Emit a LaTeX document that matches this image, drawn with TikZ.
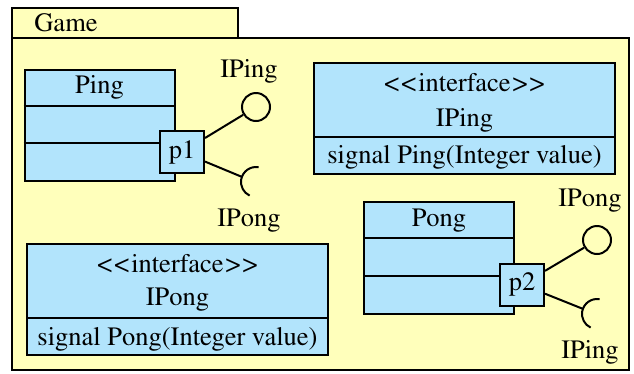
\documentclass[tikz,border=0pt]{standalone}
\usepackage[T1]{fontenc}
\usepackage{mathptmx}
\usetikzlibrary{shapes,arrows,calc,positioning}

\definecolor{pkgyellow}{RGB}{255,255,187}
\definecolor{clsblue}{RGB}{178,228,252}

\tikzset{
  cls/.style={draw, fill=clsblue, minimum width=150pt, minimum height=111pt, inner sep=0pt},
  port/.style={draw, fill=clsblue, minimum width=44pt, minimum height=42pt, inner sep=0pt},
  lolli/.style={draw, circle, minimum size=28pt, inner sep=0pt},
  sock/.style={circle, minimum size=30pt, inner sep=0pt, outer sep=0pt},
  lbl/.style={inner sep=0pt, anchor=base}
}
\newcommand{\stereo}[1]{\textless\kern2pt\textless\kern2pt#1\kern2pt\textgreater\kern2pt\textgreater}

\begin{document}
\begin{tikzpicture}[x=1pt,y=-1pt,line width=2pt,font=\fontsize{26.5}{30}\selectfont]
        \useasboundingbox (0,0) rectangle (634,373);
        % package Game with its tab
        \draw[fill=pkgyellow] (12,8) rectangle (238,38);
        \draw[fill=pkgyellow] (12,38) rectangle (629,370);
        \node[lbl] (game) at (66,31) {Game};

        % class Ping with port p1
        \node[cls] (ping) at (99.5,125.5) {};
        \draw ([yshift=-37pt]ping.north west) -- ([yshift=-37pt]ping.north east);
        \draw ([yshift=-74pt]ping.north west) -- ([yshift=-74pt]ping.north east);
        \node[lbl] (pingname) at (99.5,93) {Ping};
        \node[port] (p1) at (182,152) {p1};
        \node[lolli] (prov1) at (256,107) {};
        \node[sock] (req1) at (256,182) {};
        \draw (p1) -- (prov1);
        \draw (p1) -- (req1.160);
        \draw (req1.80) arc[start angle=-80, end angle=-245, radius=15];
        \node[lbl] (provlbl1) at (249,77) {IPing};
        \node[lbl] (reqlbl1) at (249,226) {IPong};

        % interface IPing
        \node[cls, minimum width=301pt] (ifping) at (464.5,118.5) {};
        \draw ([yshift=-75pt]ifping.north west) -- ([yshift=-75pt]ifping.north east);
        \node[lbl] (ifpingst) at (464.5,91) {\stereo{interface}};
        \node[lbl] (ifpingname) at (464.5,126) {IPing};
        \node[lbl] (ifpingop) at (464.5,163) {signal Ping(Integer value)};

        % class Pong with port p2
        \node[cls, minimum height=112pt] (pong) at (439,258) {};
        \draw ([yshift=-37pt]pong.north west) -- ([yshift=-37pt]pong.north east);
        \draw ([yshift=-75pt]pong.north west) -- ([yshift=-75pt]pong.north east);
        \node[lbl] (pongname) at (439,226) {Pong};
        \node[port] (p2) at (522,284.5) {p2};
        \node[lolli] (prov2) at (597,240) {};
        \node[sock] (req2) at (597,314) {};
        \draw (p2) -- (prov2);
        \draw (p2) -- (req2.160);
        \draw (req2.80) arc[start angle=-80, end angle=-245, radius=15];
        \node[lbl] (provlbl2) at (590,206) {IPong};
        \node[lbl] (reqlbl2) at (590,358) {IPing};

        % interface IPong
        \node[cls, minimum width=301pt] (ifpong) at (177.5,299.5) {};
        \draw ([yshift=-75pt]ifpong.north west) -- ([yshift=-75pt]ifpong.north east);
        \node[lbl] (ifpongst) at (177.5,272) {\stereo{interface}};
        \node[lbl] (ifpongname) at (177.5,305) {IPong};
        \node[lbl] (ifpongop) at (177.5,345) {signal Pong(Integer value)};
    \end{tikzpicture}
\end{document}
